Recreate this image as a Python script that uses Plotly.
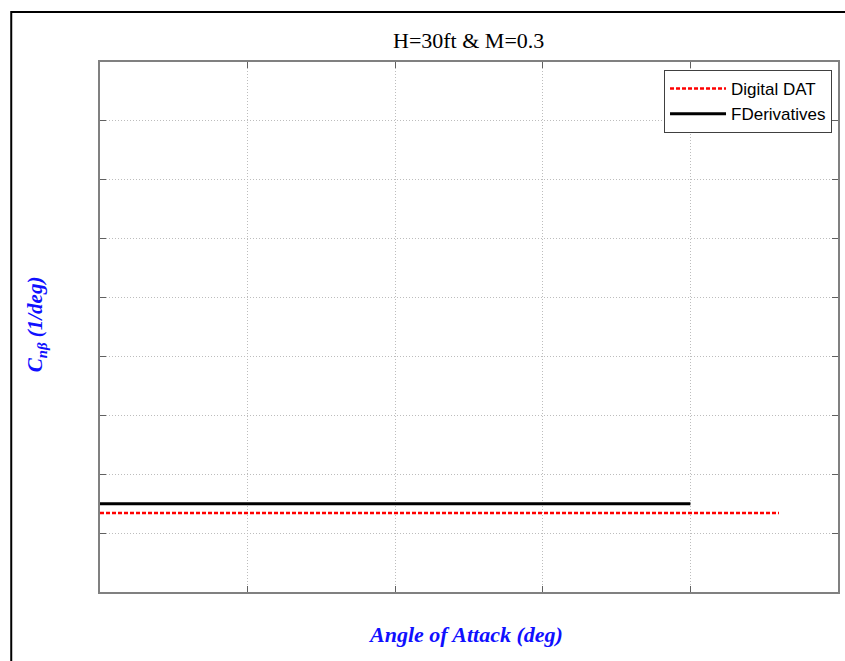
import plotly.graph_objects as go

# Data
alpha_dat = [0, 5, 10, 15, 20, 23]
cnb_dat = [0.00134, 0.00134, 0.00134, 0.00134, 0.00134, 0.00134]
alpha_fd = [0, 5, 10, 15, 20]
cnb_fd = [0.0015, 0.0015, 0.0015, 0.0015, 0.0015]

x_range = [0, 25]
y_range = [0, 0.009]

W, H = 845, 661
# plot area in pixels: left 100, right 840, top 62, bottom 592
L, T = 100, 62
pw, ph = 740, 530
R, B = W - L - pw, H - T - ph


def px(sx):
    return (sx - L) / pw


def py(sy):
    return 1 - (sy - T) / ph


fig = go.Figure()
fig.add_trace(go.Scatter(x=alpha_dat, y=cnb_dat, mode="lines", name="Digital DAT",
                         line=dict(color="#ff0000", width=2.5, dash="4px,2px")))
fig.add_trace(go.Scatter(x=alpha_fd, y=cnb_fd, mode="lines", name="FDerivatives",
                         line=dict(color="#000000", width=3)))

axis_common = dict(showticklabels=False, ticks="inside", ticklen=6, tickcolor="#606060",
                   showline=True, linecolor="#808080", linewidth=1.5, mirror="ticks",
                   showgrid=True, gridcolor="#bdbdbd", griddash="1px,2px", gridwidth=1,
                   zeroline=False)

fig.update_layout(
    width=W, height=H,
    margin=dict(l=L, r=R, t=T, b=B),
    paper_bgcolor="white", plot_bgcolor="white",
    xaxis=dict(range=x_range, dtick=5, tick0=0, **axis_common),
    yaxis=dict(range=y_range, dtick=0.001, tick0=0, **axis_common),
    showlegend=True,
    legend=dict(x=px(834), xanchor="right", y=py(70), yanchor="top",
                bgcolor="white", bordercolor="#404040", borderwidth=1,
                tracegroupgap=0, itemwidth=56,
                font=dict(family="Liberation Sans", size=17, color="black")),
    shapes=[dict(type="rect", xref="paper", yref="paper",
                 x0=px(11), x1=1.2, y0=-0.3, y1=py(12),
                 line=dict(color="black", width=2), layer="below")],
    annotations=[
        dict(text="H=30ft &amp; M=0.3", xref="paper", yref="paper",
             x=px(469), y=py(40), xanchor="center", yanchor="middle", showarrow=False,
             font=dict(family="Liberation Serif", size=22, color="black")),
        dict(text="<b><i>Angle of Attack (deg)</i></b>", xref="paper", yref="paper",
             x=px(466), y=py(634), xanchor="center", yanchor="middle", showarrow=False,
             font=dict(family="Liberation Serif", size=22, color="#1010ff")),
        dict(text="<b><i>C<sub>nβ</sub> (1/deg)</i></b>", xref="paper", yref="paper",
             x=px(36), y=py(324), xanchor="center", yanchor="middle", showarrow=False,
             textangle=-90,
             font=dict(family="Liberation Serif", size=21, color="#1010ff")),
    ],
)

fig.write_html("out.html",
               config={"displayModeBar": False},
               post_script="document.body.style.margin='0';document.body.style.overflow='hidden';")
